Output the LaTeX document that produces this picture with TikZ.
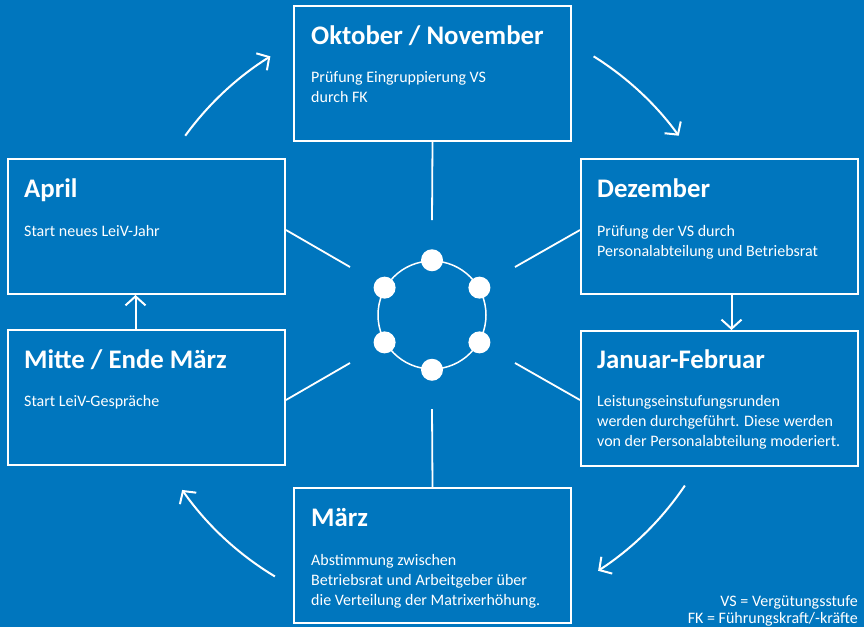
\documentclass[tikz,border=0pt]{standalone}
\usepackage{fontspec}
\setmainfont{Carlito}
\usetikzlibrary{arrows.meta}
\definecolor{bgblue}{RGB}{0,118,190}
\tikzset{
  phase/.style={draw=white, line width=2pt, minimum width=277pt, minimum height=135pt, anchor=north west, inner sep=0pt},
  head/.style={anchor=base west, text=white, inner sep=0pt, font=\bfseries\fontsize{26.8}{28}\selectfont},
  body/.style={anchor=base west, text=white, inner sep=0pt, align=left, font=\fontsize{16}{20}\selectfont},
  spoke/.style={white, line width=1.8pt},
  flow/.style={white, line width=2pt, -{Straight Barb[length=9pt,width=20pt,line width=2pt]}},
}
\begin{document}
\begin{tikzpicture}[x=1pt,y=-1pt]
  \fill[bgblue] (0,0) rectangle (864,627);
  \useasboundingbox (0,0) rectangle (864,627);
  % phase boxes
  \node[phase] (okt) at (293,5) {};
  \node[phase] (apr) at (7,158) {};
  \node[phase] (mit) at (7,329) {};
  \node[phase] (dez) at (580,158) {};
  \node[phase] (jan) at (580,330) {};
  \node[phase] (mae) at (293,487) {};
  % texts (body nodes sit on their last line)
  \node[head] (okt-h) at (311,44) {Oktober / November};
  \node[body] (okt-b) at (311,102) {Prüfung Eingruppierung VS\\durch FK};
  \node[head] (apr-h) at (24,197) {April};
  \node[body] (apr-b) at (24,236) {Start neues LeiV-Jahr};
  \node[head] (mit-h) at (24,368) {Mitte / Ende März};
  \node[body] (mit-b) at (24,406) {Start LeiV-Gespräche};
  \node[head] (dez-h) at (597,197) {Dezember};
  \node[body] (dez-b) at (597,256) {Prüfung der VS durch\\Personalabteilung und Betriebsrat};
  \node[head] (jan-h) at (597,368) {Januar-Februar};
  \node[body] (jan-b) at (597,446) {Leistungseinstufungsrunden\\werden durchgeführt. Diese werden\\von der Personalabteilung moderiert.};
  \node[head] (mae-h) at (311,526) {März};
  \node[body] (mae-b) at (311,605) {Abstimmung zwischen\\Betriebsrat und Arbeitgeber über\\die Verteilung der Matrixerhöhung.};
  % hub
  \node[circle, draw=white, line width=1.5pt, minimum size=108pt, inner sep=0pt] (hub) at (432,315) {};
  \foreach \a in {30,90,...,330} \fill[white] (hub.\a) circle (11);
  \coordinate (s1) at (432,220);
  \coordinate (s2) at (515,267);
  \coordinate (s3) at (515,363);
  \coordinate (s4) at (432,409);
  \coordinate (s5) at (350,363);
  \coordinate (s6) at (350,267);
  \draw[spoke] (okt.south) -- (s1);
  \draw[spoke] (dez.west |- 0,230) -- (s2);
  \draw[spoke] (jan.west |- 0,400) -- (s3);
  \draw[spoke] (mae.north) -- (s4);
  \draw[spoke] (mit.east |- 0,400) -- (s5);
  \draw[spoke] (apr.east |- 0,230) -- (s6);
  % cycle arrows
  \draw[flow] ([shift={(-144:305)}]hub.center) arc[start angle=-144, end angle=-122, radius=305];
  \draw[flow] ([shift={(-58:305)}]hub.center) arc[start angle=-58, end angle=-36, radius=305];
  \draw[flow] ([shift={(34:305)}]hub.center) arc[start angle=34, end angle=57, radius=305];
  \draw[flow] ([shift={(121:305)}]hub.center) arc[start angle=121, end angle=145, radius=305];
  \draw[flow] ([xshift=12pt]dez.south) -- ([xshift=12pt]dez.south |- jan.north);
  \draw[flow] ([xshift=-11pt]mit.north) -- ([xshift=-11pt]mit.north |- apr.south);
  % legend
  \node[body, anchor=base east] (leg1) at (858,606) {VS = Vergütungsstufe};
  \node[body, anchor=base east] (leg2) at (858,623) {FK = Führungskraft/-kräfte};
\end{tikzpicture}
\end{document}
